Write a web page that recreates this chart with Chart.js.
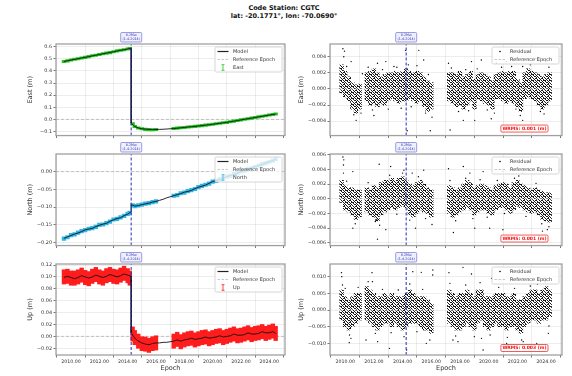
<!DOCTYPE html>
<html>
<head>
<meta charset="utf-8">
<script src="https://cdn.jsdelivr.net/npm/chart.js@4.4.1/dist/chart.umd.min.js"></script>
<style>
  body { margin: 0; background: #fff; width: 572px; height: 376px; overflow: hidden; position: relative; font-family: 'DejaVu Sans', sans-serif; }
  #title { position: absolute; left: 0; top: 3.5px; width: 568px; text-align: center; font-weight: bold; font-size: 6.5px; line-height: 8.6px; color: #111; }
  canvas { position: absolute; }
</style>
</head>
<body>
<div id="title">Code Station: CGTC<br>lat: -20.1771°, lon: -70.0690°</div>
<canvas id="east" width="290" height="110" style="left:0;top:30px"></canvas>
<canvas id="eastRes" width="282" height="110" style="left:290px;top:30px"></canvas>
<canvas id="north" width="290" height="110" style="left:0;top:140px"></canvas>
<canvas id="northRes" width="282" height="110" style="left:290px;top:140px"></canvas>
<canvas id="up" width="290" height="126" style="left:0;top:250px"></canvas>
<canvas id="upRes" width="282" height="126" style="left:290px;top:250px"></canvas>
<script>
// ---- data ----
const quakeEpoch = 2014.25;
const quakeLabel = ['8.2Mw', '(1-4-2014)'];

// model epochs (the coseismic step is the repeated 2014.25)
const modelEpochs = [
  2009.5, 2009.75, 2010.0, 2010.25, 2010.5, 2010.75, 2011.0, 2011.25, 2011.5, 2011.75,
  2012.0, 2012.25, 2012.5, 2012.75, 2013.0, 2013.25, 2013.5, 2013.75, 2014.0,
  2014.25, 2014.25,
  2014.5, 2014.75, 2015.0, 2015.25, 2015.5, 2015.75, 2016.0, 2016.25, 2016.5, 2016.75, 2017.0,
  2017.25, 2017.5, 2017.75, 2018.0, 2018.25, 2018.5, 2018.75, 2019.0, 2019.25, 2019.5,
  2019.75, 2020.0, 2020.25, 2020.5, 2020.75, 2021.0, 2021.25, 2021.5, 2021.75, 2022.0,
  2022.25, 2022.5, 2022.75, 2023.0, 2023.25, 2023.5, 2023.75, 2024.0, 2024.25,
  2024.45
];
const eastModel = [
  0.478, 0.484, 0.490, 0.495, 0.501, 0.507, 0.512, 0.518, 0.524, 0.530,
  0.535, 0.541, 0.547, 0.552, 0.558, 0.564, 0.570, 0.575, 0.581,
  0.587, -0.030,
  -0.058, -0.070, -0.077, -0.080, -0.082, -0.083, -0.083, -0.082, -0.081, -0.079, -0.077,
  -0.075, -0.072, -0.069, -0.066, -0.063, -0.060, -0.057, -0.054, -0.051, -0.047,
  -0.044, -0.040, -0.036, -0.032, -0.028, -0.024, -0.019, -0.014, -0.009, -0.004,
  0.001, 0.006, 0.011, 0.016, 0.021, 0.026, 0.031, 0.036, 0.041,
  0.045
];
const northModel = [
  -0.188, -0.184, -0.180, -0.176, -0.173, -0.169, -0.164, -0.162, -0.160, -0.155,
  -0.151, -0.148, -0.146, -0.140, -0.136, -0.132, -0.130, -0.124, -0.120,
  -0.113, -0.093,
  -0.097, -0.096, -0.093, -0.091, -0.089, -0.086, -0.084, -0.081, -0.078, -0.074, -0.071,
  -0.068, -0.065, -0.062, -0.058, -0.056, -0.053, -0.048, -0.044, -0.041, -0.038,
  -0.033, -0.028, -0.025, -0.022, -0.018, -0.014, -0.011, -0.008, -0.004, 0.000,
  0.003, 0.006, 0.010, 0.014, 0.017, 0.020, 0.024, 0.028, 0.031,
  0.035
];
const upModel = [
  0.099, 0.101, 0.099, 0.097, 0.099, 0.102, 0.100, 0.098, 0.100, 0.103,
  0.101, 0.099, 0.101, 0.104, 0.102, 0.100, 0.102, 0.105, 0.103,
  0.101, 0.006,
  -0.003, -0.008, -0.011, -0.013, -0.014, -0.012, -0.011, -0.011, -0.010, -0.010, -0.009,
  -0.008, -0.006, -0.008, -0.006, -0.005, -0.003, -0.005, -0.004, -0.003, -0.001,
  -0.003, -0.002, -0.001, 0.001, -0.001, 0.000, 0.001, 0.004, 0.002, 0.002,
  0.003, 0.006, 0.004, 0.004, 0.005, 0.008, 0.006, 0.006, 0.008,
  0.005
];

// observation epochs (no data 2016.1 - 2017.1)
const obsEpochs = [
  2009.5, 2009.75, 2010.0, 2010.25, 2010.5, 2010.75, 2011.0, 2011.25, 2011.5, 2011.75,
  2012.0, 2012.25, 2012.5, 2012.75, 2013.0, 2013.25, 2013.5, 2013.75, 2014.0, 2014.15,
  2014.35, 2014.5, 2014.75, 2015.0, 2015.25, 2015.5, 2015.75, 2016.0,
  2017.25, 2017.5, 2017.75, 2018.0, 2018.25, 2018.5, 2018.75, 2019.0, 2019.25, 2019.5,
  2019.75, 2020.0, 2020.25, 2020.5, 2020.75, 2021.0, 2021.25, 2021.5, 2021.75, 2022.0,
  2022.25, 2022.5, 2022.75, 2023.0, 2023.25, 2023.5, 2023.75, 2024.0, 2024.25, 2024.45
];
const eastObs = [
  0.478, 0.483, 0.490, 0.496, 0.501, 0.506, 0.512, 0.518, 0.525, 0.529,
  0.535, 0.542, 0.547, 0.551, 0.558, 0.565, 0.570, 0.574, 0.581, 0.585,
  -0.036, -0.058, -0.071, -0.077, -0.082, -0.084, -0.085, -0.083,
  -0.075, -0.072, -0.069, -0.066, -0.063, -0.060, -0.057, -0.054, -0.051, -0.047,
  -0.044, -0.040, -0.036, -0.032, -0.028, -0.024, -0.019, -0.014, -0.009, -0.004,
  0.001, 0.006, 0.011, 0.016, 0.021, 0.026, 0.031, 0.036, 0.041, 0.045
];
const northObs = [
  -0.189, -0.185, -0.179, -0.177, -0.172, -0.168, -0.165, -0.161, -0.159, -0.156,
  -0.150, -0.149, -0.145, -0.141, -0.135, -0.133, -0.129, -0.125, -0.119, -0.116,
  -0.095, -0.097, -0.095, -0.093, -0.090, -0.089, -0.086, -0.084,
  -0.068, -0.066, -0.061, -0.059, -0.055, -0.052, -0.049, -0.044, -0.040, -0.037,
  -0.034, -0.028, -0.026, -0.021, -0.017, -0.014, -0.012, -0.007, -0.004, 0.001,
  0.003, 0.007, 0.010, 0.013, 0.017, 0.021, 0.024, 0.027, 0.031, 0.035
];
const upObs = [
  0.100, 0.101, 0.098, 0.098, 0.100, 0.103, 0.099, 0.097, 0.101, 0.104,
  0.100, 0.098, 0.102, 0.104, 0.101, 0.100, 0.103, 0.106, 0.102, 0.098,
  0.004, -0.002, -0.008, -0.012, -0.013, -0.015, -0.012, -0.011,
  -0.008, -0.005, -0.009, -0.006, -0.004, -0.003, -0.006, -0.004, -0.002, -0.001,
  -0.004, -0.002, 0.000, 0.001, -0.002, 0.000, 0.002, 0.004, 0.001, 0.002,
  0.004, 0.006, 0.003, 0.005, 0.006, 0.008, 0.005, 0.007, 0.009, 0.005
];
// error bar half-widths (m)
const eastSigma = 0.010;
const northSigma = 0.005;
const upSigma = 0.012;

// residuals: dense band per quarter-year bin, low / high edge (m)
const residEpochs = [
  2009.75, 2010.0, 2010.25, 2010.5, 2010.75, 2011.0,
  2011.5, 2011.75, 2012.0, 2012.25, 2012.5, 2012.75, 2013.0, 2013.25, 2013.5, 2013.75,
  2014.0, 2014.25, 2014.5, 2014.75, 2015.0, 2015.25, 2015.5, 2015.75, 2016.0,
  2017.25, 2017.5, 2017.75, 2018.0, 2018.25, 2018.5, 2018.75, 2019.0, 2019.25, 2019.5,
  2019.75, 2020.0, 2020.25, 2020.5, 2020.75, 2021.0, 2021.25, 2021.5, 2021.75, 2022.0,
  2022.25, 2022.5, 2022.75, 2023.0, 2023.25, 2023.5, 2023.75, 2024.0, 2024.25
];
const eastResLow = [
  -0.0005, -0.0010, -0.0015, -0.0025, -0.0030, -0.0025,
  -0.0015, -0.0020, -0.0018, -0.0022, -0.0018, -0.0020, -0.0015, -0.0012, -0.0015, -0.0018,
  -0.0015, -0.0015, -0.0012, -0.0015, -0.0018, -0.0015, -0.0022, -0.0028, -0.0025,
  -0.0015, -0.0018, -0.0022, -0.0020, -0.0025, -0.0020, -0.0015, -0.0025, -0.0012, -0.0015,
  -0.0018, -0.0020, -0.0025, -0.0012, -0.0012, -0.0015, -0.0018, -0.0015, -0.0018, -0.0022,
  -0.0028, -0.0012, -0.0010, -0.0012, -0.0015, -0.0020, -0.0025, -0.0020, -0.0015
];
const eastResHigh = [
  0.0030, 0.0022, 0.0015, 0.0008, 0.0005, 0.0006,
  0.0020, 0.0022, 0.0025, 0.0020, 0.0015, 0.0018, 0.0020, 0.0020, 0.0022, 0.0020,
  0.0022, 0.0025, 0.0022, 0.0020, 0.0022, 0.0020, 0.0015, 0.0010, 0.0008,
  0.0020, 0.0020, 0.0018, 0.0022, 0.0015, 0.0018, 0.0022, 0.0012, 0.0018, 0.0020,
  0.0018, 0.0015, 0.0010, 0.0018, 0.0020, 0.0022, 0.0020, 0.0022, 0.0022, 0.0012,
  0.0008, 0.0020, 0.0025, 0.0022, 0.0020, 0.0018, 0.0015, 0.0018, 0.0020
];
const northResLow = [
  -0.0005, -0.0015, -0.0018, -0.0022, -0.0028, -0.0025,
  -0.0018, -0.0022, -0.0025, -0.0030, -0.0022, -0.0018, -0.0015, -0.0012, -0.0015, -0.0012,
  -0.0010, -0.0012, -0.0022, -0.0025, -0.0020, -0.0015, -0.0018, -0.0020, -0.0025,
  -0.0020, -0.0025, -0.0022, -0.0018, -0.0015, -0.0012, -0.0015, -0.0022, -0.0018, -0.0015,
  -0.0015, -0.0020, -0.0022, -0.0015, -0.0012, -0.0012, -0.0015, -0.0020, -0.0015, -0.0010,
  -0.0012, -0.0015, -0.0018, -0.0020, -0.0018, -0.0022, -0.0028, -0.0030, -0.0032
];
const northResHigh = [
  0.0025, 0.0018, 0.0015, 0.0015, 0.0012, 0.0012,
  0.0015, 0.0012, 0.0018, 0.0015, 0.0022, 0.0025, 0.0025, 0.0028, 0.0025, 0.0028,
  0.0030, 0.0025, 0.0020, 0.0018, 0.0022, 0.0025, 0.0020, 0.0015, 0.0012,
  0.0018, 0.0015, 0.0012, 0.0015, 0.0020, 0.0025, 0.0022, 0.0015, 0.0018, 0.0020,
  0.0018, 0.0015, 0.0012, 0.0018, 0.0020, 0.0022, 0.0020, 0.0015, 0.0022, 0.0025,
  0.0020, 0.0018, 0.0015, 0.0012, 0.0015, 0.0012, 0.0010, 0.0008, 0.0008
];
const upResLow = [
  -0.003, -0.005, -0.006, -0.005, -0.004, -0.003,
  -0.003, -0.004, -0.005, -0.006, -0.005, -0.004, -0.004, -0.005, -0.004, -0.005,
  -0.006, -0.005, -0.004, -0.004, -0.004, -0.005, -0.006, -0.006, -0.007,
  -0.004, -0.005, -0.006, -0.006, -0.005, -0.004, -0.005, -0.006, -0.004, -0.003,
  -0.005, -0.006, -0.005, -0.004, -0.005, -0.005, -0.006, -0.005, -0.005, -0.006,
  -0.007, -0.005, -0.004, -0.003, -0.003, -0.004, -0.003, -0.003, -0.002
];
const upResHigh = [
  0.006, 0.004, 0.003, 0.004, 0.005, 0.005,
  0.007, 0.006, 0.005, 0.004, 0.004, 0.005, 0.004, 0.005, 0.004, 0.004,
  0.004, 0.005, 0.006, 0.005, 0.004, 0.004, 0.004, 0.003, 0.002,
  0.006, 0.005, 0.004, 0.005, 0.005, 0.006, 0.005, 0.004, 0.006, 0.006,
  0.004, 0.004, 0.004, 0.005, 0.005, 0.005, 0.004, 0.004, 0.005, 0.003,
  0.003, 0.004, 0.005, 0.006, 0.006, 0.005, 0.006, 0.007, 0.006
];
// scattered residuals outside the dense band [epoch, m]
const eastResDots = [
  [2009.84, 0.0050], [2009.95, 0.0047], [2009.9, 0.0040], [2010.41, 0.0034], [2010.76, -0.0039],
  [2011.2, 0.0019], [2012.25, 0.0032], [2012.83, 0.0034], [2013.4, 0.0028], [2012.0, -0.0033],
  [2014.2, 0.0048], [2014.32, -0.0052], [2015.13, 0.0048], [2015.47, 0.0036], [2015.93, -0.0052],
  [2016.05, -0.0035], [2017.31, -0.0051], [2017.2, 0.0032], [2018.23, -0.0039], [2018.8, 0.0034],
  [2019.49, 0.0036], [2019.03, -0.0039], [2020.53, 0.0032], [2020.18, -0.0037], [2021.22, 0.0034],
  [2022.37, 0.0028], [2022.37, -0.0039], [2023.29, 0.0038], [2023.98, 0.0034], [2023.86, -0.0031],
  [2010.1, 0.0028], [2010.6, -0.0032], [2011.1, -0.0030], [2011.6, 0.0027], [2011.9, -0.0026],
  [2012.6, 0.0024], [2013.0, -0.0025], [2013.6, 0.0027], [2013.9, -0.0024], [2014.4, 0.0030],
  [2014.6, -0.0022], [2015.0, 0.0029], [2015.6, -0.0030], [2015.8, 0.0018], [2017.4, 0.0026],
  [2017.9, -0.0028], [2018.4, 0.0024], [2018.6, -0.0027], [2019.2, 0.0025], [2019.9, -0.0026],
  [2020.4, -0.0030], [2020.9, 0.0027], [2021.6, 0.0028], [2021.9, -0.0025], [2022.2, -0.0033],
  [2022.9, 0.0030], [2023.6, -0.0028], [2024.2, 0.0027]
];
const northResDots = [
  [2009.84, 0.0057], [2009.9, 0.0053], [2009.88, 0.0046], [2009.88, 0.0035], [2010.53, 0.0037],
  [2010.53, -0.0040], [2012.37, 0.0047], [2012.2, -0.0028], [2012.83, -0.0042], [2012.25, -0.0055],
  [2013.17, 0.0044], [2014.09, 0.0039], [2014.67, 0.0035], [2014.9, -0.0040], [2015.47, 0.0039],
  [2016.05, -0.0035], [2017.2, 0.0041], [2018.23, 0.0044], [2017.54, -0.0046], [2018.69, 0.0035],
  [2019.61, 0.0037], [2019.03, -0.0040], [2020.07, -0.0040], [2020.99, 0.0037], [2020.99, -0.0042],
  [2022.37, 0.0035], [2022.83, 0.0039], [2023.75, -0.0044], [2024.09, -0.0042],
  [2010.1, 0.0024], [2010.7, -0.0034], [2011.6, 0.0022], [2012.1, -0.0031], [2012.4, -0.0036],
  [2013.1, 0.0032], [2013.6, -0.0021], [2014.0, 0.0035], [2014.5, -0.0029], [2015.1, 0.0030],
  [2015.6, -0.0027], [2017.3, 0.0025], [2017.7, -0.0030], [2018.4, 0.0028], [2018.9, -0.0027],
  [2019.4, 0.0026], [2019.9, -0.0025], [2020.6, 0.0025], [2021.1, -0.0020], [2021.8, 0.0028],
  [2022.1, 0.0031], [2022.6, -0.0024], [2023.3, 0.0021], [2023.7, -0.0034], [2024.2, -0.0038]
];
const upResDots = [
  [2009.74, 0.0112], [2009.76, 0.0100], [2009.81, 0.0075], [2010.4, -0.0085], [2010.28, -0.0098],
  [2011.45, -0.0090], [2011.87, 0.0112], [2011.9, 0.0085], [2012.26, -0.0095], [2013.08, -0.0115],
  [2014.28, -0.0120], [2014.71, 0.0115], [2015.3, 0.0113], [2016.11, 0.0120], [2016.1, 0.0105],
  [2015.65, -0.0100], [2017.23, 0.0112], [2017.51, -0.0090], [2017.86, -0.0095], [2018.21, 0.0128],
  [2018.8, 0.0108], [2019.61, -0.0120], [2019.5, -0.0085], [2020.2, 0.0095], [2021.25, -0.0100],
  [2022.41, -0.0095], [2023.35, -0.0100], [2024.16, -0.0070], [2023.93, 0.0085],
  [2010.0, 0.0065], [2010.3, -0.0075], [2010.9, 0.0068], [2011.6, 0.0085], [2012.1, -0.0070],
  [2012.6, 0.0062], [2013.2, -0.0068], [2013.7, 0.0060], [2014.1, -0.0080], [2014.5, 0.0078],
  [2015.0, -0.0065], [2015.4, 0.0062], [2015.9, -0.0090], [2017.3, 0.0080], [2017.7, -0.0078],
  [2018.4, 0.0075], [2019.0, -0.0080], [2019.4, 0.0082], [2020.1, -0.0075], [2020.7, 0.0068],
  [2021.3, -0.0082], [2021.8, 0.0065], [2022.3, -0.0090], [2022.9, 0.0072], [2023.4, 0.0078],
  [2024.0, 0.0090], [2024.2, -0.0048]
];
const wrmsLabels = ['WRMS: 0.001 (m)', 'WRMS: 0.001 (m)', 'WRMS: 0.003 (m)'];

// ---- look ----
const FONT = 'DejaVu Sans';
const X_MIN = 2008.94, X_MAX = 2025.11;
const QUAKE_COLOR = 'rgba(45,45,185,0.85)';
Chart.defaults.font.family = FONT;
Chart.defaults.color = '#333';

// stipple fill so the dense residual band reads like a cloud of dots
function stipple() {
  const c = document.createElement('canvas');
  c.width = 6; c.height = 6;
  const g = c.getContext('2d');
  g.fillStyle = '#1a1a1a';
  [[0, 0], [3, 0], [5, 0], [1, 1], [4, 1], [2, 2], [5, 2], [0, 3], [3, 3], [1, 4], [4, 4], [5, 4],
   [2, 5], [0, 5], [3, 2], [1, 2]].forEach(p => g.fillRect(p[0], p[1], 1, 1));
  return g.createPattern(c, 'repeat');
}

function rrect(ctx, x, y, w, h, r) {
  ctx.beginPath();
  if (ctx.roundRect) ctx.roundRect(x, y, w, h, r); else ctx.rect(x, y, w, h);
}

const panelDecor = {
  id: 'panelDecor',
  afterDraw(chart, args, opts) {
    const { ctx, chartArea: a } = chart;
    ctx.save();
    // quake tag above the axes
    const qx = chart.scales.x.getPixelForValue(quakeEpoch);
    const tw = 21, th = 9.5, ty = a.top - 2 - th;
    rrect(ctx, qx - tw / 2, ty, tw, th, 1);
    ctx.fillStyle = '#eef0ff'; ctx.fill();
    ctx.strokeStyle = '#7474da'; ctx.lineWidth = 0.7; ctx.stroke();
    ctx.fillStyle = '#3434a8';
    ctx.font = '3.3px ' + FONT;
    ctx.textAlign = 'center'; ctx.textBaseline = 'middle';
    ctx.fillText(quakeLabel[0], qx, ty + 3);
    ctx.fillText(quakeLabel[1], qx, ty + 6.8);

    // legend box
    const items = opts.items || [];
    const lx = a.right - 70, ly = a.top + 3, lw = 67, lh = items.length * 8 + 1;
    rrect(ctx, lx, ly, lw, lh, 1.5);
    ctx.fillStyle = 'rgba(255,255,255,0.8)'; ctx.fill();
    ctx.strokeStyle = '#cccccc'; ctx.lineWidth = 0.8; ctx.stroke();
    ctx.font = '5px ' + FONT;
    ctx.textAlign = 'left';
    items.forEach((it, i) => {
      const cy = ly + 4.5 + 8 * i;
      ctx.strokeStyle = it.color; ctx.fillStyle = it.color;
      if (it.kind === 'line' || it.kind === 'dash') {
        ctx.lineWidth = it.kind === 'line' ? 1.2 : 0.8;
        ctx.setLineDash(it.kind === 'dash' ? [2.5, 1.5] : []);
        ctx.beginPath(); ctx.moveTo(lx + 2.5, cy); ctx.lineTo(lx + 13.5, cy); ctx.stroke();
        ctx.setLineDash([]);
      } else if (it.kind === 'err') {
        const cx = lx + 8;
        ctx.lineWidth = 0.8;
        ctx.beginPath();
        ctx.moveTo(cx, cy - 2.8); ctx.lineTo(cx, cy + 2.8);
        ctx.moveTo(cx - 1.5, cy - 2.8); ctx.lineTo(cx + 1.5, cy - 2.8);
        ctx.moveTo(cx - 1.5, cy + 2.8); ctx.lineTo(cx + 1.5, cy + 2.8);
        ctx.stroke();
      } else if (it.kind === 'dot') {
        ctx.beginPath(); ctx.arc(lx + 8, cy, 0.8, 0, Math.PI * 2); ctx.fill();
      }
      ctx.fillStyle = '#333';
      ctx.fillText(it.label, lx + 18, cy + 0.3);
    });

    // WRMS tag
    if (opts.wrms) {
      ctx.font = 'bold 4.5px ' + FONT;
      const w = ctx.measureText(opts.wrms).width + 3;
      const bx = a.right - 14 - w, by = a.bottom - 10.5;
      rrect(ctx, bx, by, w, 7, 1.2);
      ctx.fillStyle = '#fff'; ctx.fill();
      ctx.strokeStyle = '#f03030'; ctx.lineWidth = 0.8; ctx.stroke();
      ctx.fillStyle = '#ee1111';
      ctx.textBaseline = 'middle';
      ctx.fillText(opts.wrms, bx + 1.5, by + 3.7);
    }

    // axes frame
    ctx.strokeStyle = '#a0a0a0'; ctx.lineWidth = 1.3;
    ctx.strokeRect(a.left, a.top, a.right - a.left, a.bottom - a.top);
    ctx.restore();
  }
};

function fmt(decimals) {
  return v => (Math.abs(v) < 1e-12 ? 0 : v).toFixed(decimals).replace('-', '\u2212');
}

function refLines(yMin, yMax) {
  return [
    { type: 'line', data: [{ x: quakeEpoch, y: yMin }, { x: quakeEpoch, y: yMax }],
      borderColor: QUAKE_COLOR, borderWidth: 1.2, borderDash: [3, 2], pointRadius: 0, order: 0 },
    { type: 'line', data: [{ x: X_MIN, y: 0 }, { x: X_MAX, y: 0 }],
      borderWidth: 0.8, borderDash: [3, 2], pointRadius: 0, order: 9 }
  ];
}

function makePanel(id, cfg) {
  const xTitle = cfg.bottom
    ? { display: true, text: 'Epoch', font: { size: 6.5 }, color: '#333', padding: { top: 0, bottom: 3.6 } }
    : { display: false };
  new Chart(document.getElementById(id), {
    type: 'scatter',
    data: { datasets: cfg.datasets },
    options: {
      responsive: false,
      animation: false,
      events: [],
      layout: { padding: { top: 14, right: cfg.padRight, left: 0, bottom: 0 } },
      plugins: {
        legend: { display: false },
        tooltip: { enabled: false },
        panelDecor: { items: cfg.legend, wrms: cfg.wrms }
      },
      scales: {
        x: {
          type: 'linear', min: X_MIN, max: X_MAX, offset: false,
          afterFit: s => { s.height = cfg.bottom ? 21 : 4; },
          border: { display: false },
          grid: { color: 'rgba(0,0,0,0.09)', lineWidth: 0.8, tickColor: '#555', tickLength: 2.5 },
          ticks: {
            display: cfg.bottom, stepSize: 2, includeBounds: false, autoSkip: false, maxRotation: 0,
            padding: 1, font: { size: 4.7 }, color: '#333', callback: v => v.toFixed(2)
          },
          title: xTitle
        },
        y: {
          min: cfg.yMin, max: cfg.yMax,
          afterFit: s => { s.width = cfg.yWidth; },
          border: { display: false },
          grid: { color: 'rgba(0,0,0,0.09)', lineWidth: 0.8, tickColor: '#555', tickLength: 2.5 },
          ticks: { stepSize: cfg.yStep, includeBounds: false, padding: 1.5, font: { size: 4.9 }, color: '#333', callback: fmt(cfg.yDec) },
          title: { display: true, text: cfg.yTitle, font: { size: 6.5 }, color: '#333', padding: { top: cfg.yTitlePad, bottom: 0 } }
        }
      }
    },
    plugins: [panelDecor]
  });
}

function seriesPanel(id, name, obs, sigma, model, color, axis, bottom) {
  const lines = refLines(axis[0], axis[1]);
  lines[1].borderColor = '#b4b4b4';
  makePanel(id, {
    bottom, padRight: 5, yWidth: 56, yTitlePad: 26.8,
    yMin: axis[0], yMax: axis[1], yStep: axis[2], yDec: axis[3], yTitle: name + ' (m)',
    legend: [
      { label: 'Model', kind: 'line', color: '#222' },
      { label: 'Reference Epoch', kind: 'dash', color: '#bbbbbb' },
      { label: name, kind: 'err', color: color }
    ],
    datasets: [
      lines[0],
      { type: 'line', data: modelEpochs.map((t, i) => ({ x: t, y: model[i] })),
        borderColor: '#111', borderWidth: 0.9, pointRadius: 0, order: 1 },
      { type: 'bar', data: obsEpochs.map((t, i) => ({ x: t, y: [obs[i] - sigma, obs[i] + sigma] })),
        backgroundColor: color, borderWidth: 0, barThickness: 3.7, grouped: false, order: 2 },
      lines[1]
    ]
  });
}

function residualPanel(id, name, low, high, dots, wrms, axis, bottom) {
  const lines = refLines(axis[0], axis[1]);
  lines[1].borderColor = 'rgba(232,232,232,0.95)';
  lines[1].order = 1;
  makePanel(id, {
    bottom, padRight: 10, yWidth: 40, yTitlePad: 7,
    yMin: axis[0], yMax: axis[1], yStep: axis[2], yDec: axis[3], yTitle: name + ' (m)',
    wrms,
    legend: [
      { label: 'Residual', kind: 'dot', color: '#000' },
      { label: 'Reference Epoch', kind: 'dash', color: '#bbbbbb' }
    ],
    datasets: [
      lines[0],
      lines[1],
      { type: 'scatter', data: dots.map(d => ({ x: d[0], y: d[1] })),
        pointRadius: 0.7, backgroundColor: '#000', borderWidth: 0, order: 2 },
      { type: 'bar', data: residEpochs.map((t, i) => ({ x: t, y: [low[i], high[i]] })),
        backgroundColor: stipple(), borderWidth: 0, barThickness: 3.7, grouped: false, order: 3 }
    ]
  });
}

// axis: [min, max, step, decimals]
seriesPanel('east', 'East', eastObs, eastSigma, eastModel, '#22c422', [-0.133, 0.622, 0.1, 1], false);
seriesPanel('north', 'North', northObs, northSigma, northModel, '#2fb6e6', [-0.2084, 0.0496, 0.05, 2], false);
seriesPanel('up', 'Up', upObs, upSigma, upModel, '#ff1c1c', [-0.0313, 0.1217, 0.02, 2], true);
residualPanel('eastRes', 'East', eastResLow, eastResHigh, eastResDots, wrmsLabels[0], [-0.00579, 0.00559, 0.002, 3], false);
residualPanel('northRes', 'North', northResLow, northResHigh, northResDots, wrmsLabels[1], [-0.00637, 0.0061, 0.002, 3], false);
residualPanel('upRes', 'Up', upResLow, upResHigh, upResDots, wrmsLabels[2], [-0.0135, 0.0138, 0.005, 3], true);
</script>
</body>
</html>
